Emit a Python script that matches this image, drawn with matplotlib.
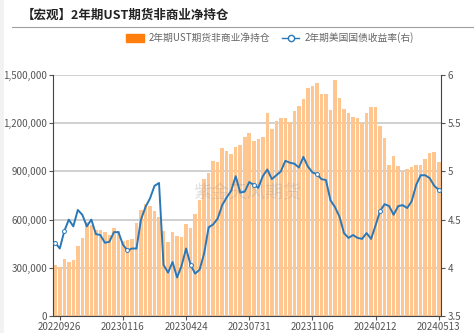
import numpy as np
import matplotlib.pyplot as plt
from matplotlib.lines import Line2D
from matplotlib.patches import Patch, Rectangle
from matplotlib.ticker import FuncFormatter

plt.rcParams['font.family'] = ['Noto Sans CJK SC', 'DejaVu Sans']

# weekly non-commercial net position, 2Y UST futures
net_pos = [
    315, 303, 355, 336, 349, 438, 483, 588, 568, 535,
    534, 524, 506, 548, 528, 464, 474, 480, 578, 660,
    695, 686, 656, 615, 531, 463, 525, 500, 494, 573,
    546, 635, 722, 853, 888, 965, 958, 1043, 1024, 1010,
    1054, 1065, 1113, 1142, 1091, 1104, 1111, 1265, 1163, 1213,
    1234, 1234, 1206, 1273, 1308, 1349, 1417, 1432, 1448, 1382,
    1382, 1282, 1469, 1355, 1286, 1261, 1240, 1234, 1199, 1261,
    1303, 1299, 1183, 1106, 940, 996, 934, 902, 913, 929,
    942, 942, 977, 1012, 1019, 960,
]
net_pos = [v * 1000 for v in net_pos]

# 2Y treasury yield (right axis)
yield_2y = [
    4.26, 4.20, 4.38, 4.50, 4.43, 4.60, 4.55, 4.43, 4.50, 4.35,
    4.34, 4.26, 4.27, 4.37, 4.37, 4.24, 4.18, 4.20, 4.20, 4.50,
    4.63, 4.72, 4.85, 4.88, 4.03, 3.95, 4.06, 3.90, 4.02, 4.20,
    4.03, 3.94, 3.98, 4.15, 4.42, 4.45, 4.51, 4.65, 4.73, 4.80,
    4.95, 4.78, 4.79, 4.89, 4.86, 4.83, 4.95, 5.02, 4.92, 4.96,
    5.00, 5.11, 5.09, 5.08, 5.04, 5.15, 5.05, 4.99, 4.97, 4.92,
    4.91, 4.70, 4.63, 4.53, 4.36, 4.31, 4.34, 4.31, 4.30, 4.36,
    4.30, 4.44, 4.59, 4.66, 4.64, 4.55, 4.64, 4.65, 4.62, 4.69,
    4.86, 4.96, 4.96, 4.93, 4.85, 4.81,
]

tick_labels = ['20220926', '20230116', '20230424', '20230731',
               '20231106', '20240212', '20240513']
tick_idx = [1, 15, 29, 43, 57, 71, 85]
marker_idx = [0, 2, 16, 30, 44, 58, 72, 85]

bar_color = '#ffc690'
legend_orange = '#ff7f0e'
line_color = '#2a78b8'
txt_color = '#555555'

fig = plt.figure(figsize=(4.74, 3.33), dpi=100)
fig.add_artist(Rectangle((0, 0), 4 / 474, 1, transform=fig.transFigure,
                         color='#f2f2f2', lw=0))

fig.text(22 / 474, 1 - 15 / 333, '【宏观】2年期UST期货非商业净持仓', fontsize=9,
         fontweight='bold', color='#222222', va='center', ha='left')
fig.add_artist(Line2D([12 / 474, 1], [1 - 27 / 333] * 2, transform=fig.transFigure,
                      color='#a0a0a0', lw=0.8))

ax = fig.add_axes([53 / 474, 17 / 333, 388 / 474, 241 / 333])
x = np.arange(len(net_pos))
ax.bar(x, net_pos, width=0.78, color=bar_color, zorder=2)
ax.set_xlim(-0.5, len(net_pos) - 0.5)
ax.set_ylim(0, 1500000)
ax.set_yticks([0, 300000, 600000, 900000, 1200000, 1500000])
ax.yaxis.set_major_formatter(FuncFormatter(lambda v, p: f'{int(v):,}'))
ax.grid(axis='y', color='#c8c8c8', lw=1.2, zorder=1)
ax.set_xticks(tick_idx)
ax.set_xticklabels(tick_labels)
ax.tick_params(axis='both', labelsize=7, colors=txt_color, length=3, width=0.8,
               pad=1)
for s in ['top', 'right']:
    ax.spines[s].set_visible(False)
for s in ['left', 'bottom']:
    ax.spines[s].set_color('#444444')

ax2 = ax.twinx()
ax2.plot(x, yield_2y, color=line_color, lw=1.4, zorder=5, marker='o', ms=2.8,
         mfc='white', mec=line_color, mew=0.7, markevery=marker_idx)
ax2.set_ylim(3.5, 6)
ax2.set_yticks([3.5, 4, 4.5, 5, 5.5, 6])
ax2.set_yticklabels(['3.5', '4', '4.5', '5', '5.5', '6'])
ax2.tick_params(axis='y', labelsize=7, colors=txt_color, length=3, width=0.8, pad=2)
for s in ['top', 'left', 'bottom']:
    ax2.spines[s].set_visible(False)
ax2.spines['right'].set_color('#444444')

ax.text(0.5, 0.51, '紫金天风期货', transform=ax.transAxes, fontsize=13,
        color='#999999', alpha=0.3, ha='center', va='center', zorder=10)

handles = [Patch(color=legend_orange),
           Line2D([], [], color=line_color, lw=1.0, marker='o', ms=4.5,
                  mfc='white', mec=line_color)]
fig.legend(handles, ['2年期UST期货非商业净持仓', '2年期美国国债收益率(右)'],
           loc='center', bbox_to_anchor=(270 / 474, 1 - 38 / 333), ncol=2,
           frameon=False, fontsize=7, labelcolor='#666666', handlelength=1.8,
           handleheight=0.9, columnspacing=1.2, handletextpad=0.5)

fig.savefig('out.png', dpi=100)
